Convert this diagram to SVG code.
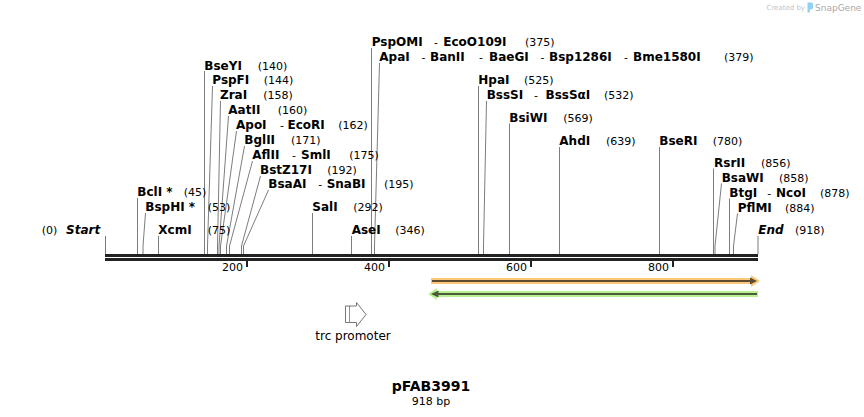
<svg xmlns="http://www.w3.org/2000/svg" width="864" height="417" viewBox="0 0 864 417">
<style>
text{font-family:"DejaVu Sans",Verdana,sans-serif;fill:#000}
.n{font-size:12px;font-weight:bold}
.st{font-size:12px;font-weight:bold;font-style:italic}
.p{font-size:11px}
.d{font-size:11px}
.tk{font-size:11px;text-anchor:end}
.ln{fill:none;stroke:#7d7d7d;stroke-width:1}
</style>
<rect width="864" height="417" fill="#fff"/>
<g id="logo">
<text x="766.5" y="10" style="font-size:7px;fill:#c4c4c4">Created by</text>
<path d="M807.5 2.5 h4 a1.5 1.5 0 0 1 1.5 1.5 v3.5 a2 2 0 0 1 -2 2 h-1 v3 h-2.5 z" fill="#8fd2f6"/>
<text x="815" y="11" style="font-size:9px;fill:#a8a8a8">SnapGene</text>
</g>
<g id="connectors">
<path class="ln" d="M105.5 236V254"/>
<path class="ln" d="M137.5 198V254"/>
<path class="ln" d="M145.5 213L143 246V254"/>
<path class="ln" d="M158.5 236V254"/>
<path class="ln" d="M204.5 71V254"/>
<path class="ln" d="M212.5 86L207.5 246V254"/>
<path class="ln" d="M220.5 101L217.5 246V254"/>
<path class="ln" d="M228.5 116L219 246V254"/>
<path class="ln" d="M236.5 131L220.5 246V254"/>
<path class="ln" d="M244.5 146L226.5 246V254"/>
<path class="ln" d="M252.5 161L229.5 246V254"/>
<path class="ln" d="M260.5 176L241.5 246V254"/>
<path class="ln" d="M268.5 190L243.5 246V254"/>
<path class="ln" d="M312.5 213V254"/>
<path class="ln" d="M351.5 236V254"/>
<path class="ln" d="M371.5 48V254"/>
<path class="ln" d="M379.5 63L374.5 246V254"/>
<path class="ln" d="M478.5 86V254"/>
<path class="ln" d="M486.5 101L483.5 246V254"/>
<path class="ln" d="M509.5 123.5V254"/>
<path class="ln" d="M559.5 147V254"/>
<path class="ln" d="M659.5 147V254"/>
<path class="ln" d="M713.5 168.5V254"/>
<path class="ln" d="M721.5 183.5L715 246V254"/>
<path class="ln" d="M729.5 198.5V254"/>
<path class="ln" d="M737.5 213.5L733.5 246V254"/>
<path class="ln" d="M758 236V254"/>
</g>
<g id="axis">
<rect x="105" y="254" width="653" height="3" fill="#222"/>
<rect x="105" y="258" width="653" height="3" fill="#222"/>
<rect x="246" y="260" width="2" height="7" fill="#222"/>
<rect x="388" y="260" width="2" height="7" fill="#222"/>
<rect x="530" y="260" width="2" height="7" fill="#222"/>
<rect x="672" y="260" width="2" height="7" fill="#222"/>
<text class="tk" x="243" y="271">200</text>
<text class="tk" x="385" y="271">400</text>
<text class="tk" x="527" y="271">600</text>
<text class="tk" x="669" y="271">800</text>
</g>
<g id="site-start"><text class="p" x="41.7" y="234">(0)</text><text class="st" x="66" y="234">Start</text></g>
<g id="site-BclI"><text class="n" x="137.3" y="196">BclI *</text><text class="p" x="183.7" y="196">(45)</text></g>
<g id="site-BspHI"><text class="n" x="145.3" y="211">BspHI *</text><text class="p" x="207.7" y="211">(53)</text></g>
<g id="site-XcmI"><text class="n" x="158.3" y="234">XcmI</text><text class="p" x="207.7" y="234">(75)</text></g>
<g id="site-BseYI"><text class="n" x="204.3" y="69.5">BseYI</text><text class="p" x="257.7" y="69.5">(140)</text></g>
<g id="site-PspFI"><text class="n" x="212.3" y="84">PspFI</text><text class="p" x="263.7" y="84">(144)</text></g>
<g id="site-ZraI"><text class="n" x="220" y="99">ZraI</text><text class="p" x="263.3" y="99">(158)</text></g>
<g id="site-AatII"><text class="n" x="228.3" y="114">AatII</text><text class="p" x="277.7" y="114">(160)</text></g>
<g id="site-ApoI"><text class="n" x="236" y="129">ApoI</text><text class="d" x="280" y="129">-</text><text class="n" x="287.5" y="129">EcoRI</text><text class="p" x="338.3" y="129">(162)</text></g>
<g id="site-BglII"><text class="n" x="244.3" y="144">BglII</text><text class="p" x="291" y="144">(171)</text></g>
<g id="site-AflII"><text class="n" x="252.3" y="159">AflII</text><text class="d" x="292" y="159">-</text><text class="n" x="301" y="159">SmlI</text><text class="p" x="349.3" y="159">(175)</text></g>
<g id="site-BstZ17I"><text class="n" x="260" y="173.5">BstZ17I</text><text class="p" x="327.3" y="173.5">(192)</text></g>
<g id="site-BsaAI"><text class="n" x="268.3" y="188">BsaAI</text><text class="d" x="318.3" y="188">-</text><text class="n" x="326.7" y="188">SnaBI</text><text class="p" x="384" y="188">(195)</text></g>
<g id="site-SalI"><text class="n" x="312.3" y="211">SalI</text><text class="p" x="353.3" y="211">(292)</text></g>
<g id="site-AseI"><text class="n" x="351.7" y="234">AseI</text><text class="p" x="395.3" y="234">(346)</text></g>
<g id="site-PspOMI"><text class="n" x="371.7" y="46">PspOMI</text><text class="d" x="434" y="46">-</text><text class="n" x="443.3" y="46">EcoO109I</text><text class="p" x="525" y="46">(375)</text></g>
<g id="site-ApaI"><text class="n" x="379.3" y="61">ApaI</text><text class="d" x="421.5" y="61">-</text><text class="n" x="430" y="61">BanII</text><text class="d" x="479" y="61">-</text><text class="n" x="489" y="61">BaeGI</text><text class="d" x="540.5" y="61">-</text><text class="n" x="549" y="61">Bsp1286I</text><text class="d" x="624" y="61">-</text><text class="n" x="633" y="61">Bme1580I</text><text class="p" x="724" y="61">(379)</text></g>
<g id="site-HpaI"><text class="n" x="478.3" y="84">HpaI</text><text class="p" x="524" y="84">(525)</text></g>
<g id="site-BssSI"><text class="n" x="486.7" y="99">BssSI</text><text class="d" x="534" y="99">-</text><text class="n" x="545.5" y="99">BssSαI</text><text class="p" x="604" y="99">(532)</text></g>
<g id="site-BsiWI"><text class="n" x="509.3" y="121.5">BsiWI</text><text class="p" x="563.3" y="121.5">(569)</text></g>
<g id="site-AhdI"><text class="n" x="559.3" y="145">AhdI</text><text class="p" x="606" y="145">(639)</text></g>
<g id="site-BseRI"><text class="n" x="659.3" y="145">BseRI</text><text class="p" x="712.7" y="145">(780)</text></g>
<g id="site-RsrII"><text class="n" x="714" y="166.5">RsrII</text><text class="p" x="761" y="166.5">(856)</text></g>
<g id="site-BsaWI"><text class="n" x="721.7" y="181.5">BsaWI</text><text class="p" x="779" y="181.5">(858)</text></g>
<g id="site-BtgI"><text class="n" x="729.3" y="196.5">BtgI</text><text class="d" x="767.3" y="196.5">-</text><text class="n" x="776" y="196.5">NcoI</text><text class="p" x="820" y="196.5">(878)</text></g>
<g id="site-PflMI"><text class="n" x="737.7" y="211.5">PflMI</text><text class="p" x="785" y="211.5">(884)</text></g>
<g id="site-end"><text class="st" x="758.3" y="234">End</text><text class="p" x="795" y="234">(918)</text></g>
<g id="feature-orange">
<polygon points="431,278 751,278 751,275 760,281 751,287 751,284 431,284" fill="#fcc97a"/>
<path d="M432 281H751" stroke="#5e4a2e" stroke-width="2"/>
<polygon points="750,277.5 757,281 750,284.5" fill="#5e4a2e"/>
</g>
<g id="feature-green">
<polygon points="758,291 437,291 437,288 428,294 437,300 437,297 758,297" fill="#b8f290"/>
<path d="M757 294H438" stroke="#4a5a3a" stroke-width="2"/>
<polygon points="438.5,290.5 431,294 438.5,297.5" fill="#4a5a3a"/>
</g>
<g id="trc-promoter">
<path d="M345.5 306H356.5V302.5L366 314.5L356.5 326.5V322.5H345.5Z" fill="#fff" stroke="#777" stroke-width="1"/>
<path d="M349.5 306.5V322" stroke="#222" stroke-width="1" stroke-dasharray="1,1"/>
<text x="353" y="340" style="font-size:12px;text-anchor:middle">trc promoter</text>
</g>
<g id="title">
<text x="431" y="391" style="font-size:14px;font-weight:bold;text-anchor:middle">pFAB3991</text>
<text x="431" y="405" style="font-size:11px;text-anchor:middle">918 bp</text>
</g>
</svg>
